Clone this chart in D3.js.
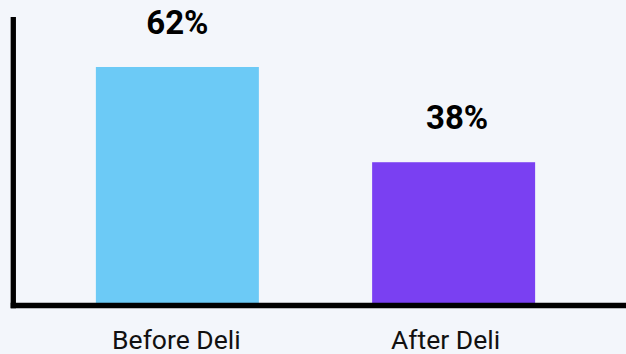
<!DOCTYPE html>
<html>
<head>
<meta charset="utf-8">
<script src="https://cdn.jsdelivr.net/npm/d3@7"></script>
<style>
  html, body { margin: 0; padding: 0; background: #f3f6fb; }
  svg { display: block; }
</style>
</head>
<body>
<svg id="chart" width="626" height="354"></svg>
<script>
// Share of orders, before vs. after the deli counter opened
const categories = ["Before Deli", "After Deli"];
const values = [62, 38];
const valueLabels = ["62%", "38%"];
const barColors = ["#6ccaf6", "#7a40f2"];

const W = 626, H = 354;
const axisX = 13.3, axisY = 305.5, plotTop = 17;
// small horizontal nudges for the text under / above each bar
const catShift = [-1, -8];
const valShift = [0, 3.5];

const svg = d3.select("#chart");
svg.append("rect").attr("width", W).attr("height", H).attr("fill", "#f3f6fb");

const x = d3.scaleBand()
  .domain(categories)
  .range([13, 618])
  .paddingInner(0.41)
  .paddingOuter(0.3);

const y = d3.scaleLinear()
  .domain([0, 74.6])
  .range([313, plotTop]);

const data = categories.map((c, i) => ({ c, i, v: values[i], label: valueLabels[i], color: barColors[i] }));

// bars
svg.selectAll("rect.bar")
  .data(data)
  .join("rect")
  .attr("class", "bar")
  .attr("x", d => x(d.c))
  .attr("width", x.bandwidth())
  .attr("y", d => y(d.v))
  .attr("height", d => axisY - y(d.v))
  .attr("fill", d => d.color);

// value labels
svg.selectAll("text.val")
  .data(data)
  .join("text")
  .attr("class", "val")
  .attr("x", d => x(d.c) + x.bandwidth() / 2 + valShift[d.i])
  .attr("y", d => y(d.v) - 33)
  .attr("text-anchor", "middle")
  .attr("font-family", "Roboto, sans-serif")
  .attr("font-weight", 700)
  .attr("font-size", 33)
  .attr("fill", "#000")
  .text(d => d.label);

// category labels
svg.selectAll("text.cat")
  .data(data)
  .join("text")
  .attr("class", "cat")
  .attr("x", d => x(d.c) + x.bandwidth() / 2 + catShift[d.i])
  .attr("y", 349)
  .attr("text-anchor", "middle")
  .attr("font-family", "Roboto, sans-serif")
  .attr("font-size", 26.5)
  .attr("fill", "#111")
  .text(d => d.c);

// axis lines
svg.append("line")
  .attr("x1", axisX).attr("x2", axisX)
  .attr("y1", plotTop).attr("y2", axisY + 2.65)
  .attr("stroke", "#000").attr("stroke-width", 5.3);
svg.append("line")
  .attr("x1", axisX - 2.65).attr("x2", W)
  .attr("y1", axisY).attr("y2", axisY)
  .attr("stroke", "#000").attr("stroke-width", 5.3);
</script>
</body>
</html>
